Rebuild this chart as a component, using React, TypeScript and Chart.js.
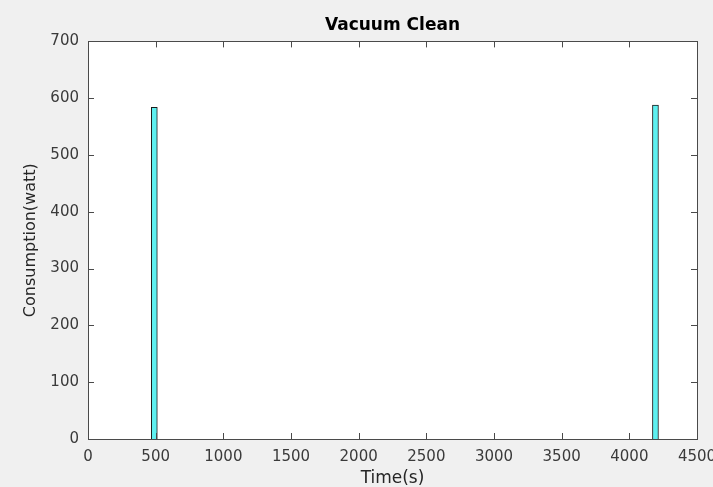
import React, { useEffect, useRef } from "react";
import { Chart, registerables } from "chart.js";

Chart.register(...registerables);

const chartTitle = "Vacuum Clean";
const xAxisTitle = "Time(s)";
const yAxisTitle = "Consumption(watt)";
const times = [490, 4193];
const consumption = [584, 588];
const xMin = 0;
const xMax = 4500;
const xStep = 500;
const yMin = 0;
const yMax = 700;
const yStep = 100;

const FONT = "'DejaVu Sans', 'Liberation Sans', Arial, sans-serif";

const boxPlugin = {
  id: "matlabBox",
  beforeDraw(chart: any) {
    const { ctx, chartArea, width, height } = chart;
    ctx.save();
    ctx.fillStyle = "#f0f0f0";
    ctx.fillRect(0, 0, width, height);
    ctx.fillStyle = "#ffffff";
    ctx.fillRect(chartArea.left, chartArea.top, chartArea.right - chartArea.left, chartArea.bottom - chartArea.top);
    ctx.restore();
  },
  afterDraw(chart: any) {
    const { ctx, chartArea } = chart;
    const { left, right, top, bottom } = chartArea;
    const xs = chart.scales.x;
    const ys = chart.scales.y;
    const tl = 6;
    ctx.save();
    ctx.strokeStyle = "#4a4a4a";
    ctx.lineWidth = 1;
    ctx.beginPath();
    xs.ticks.forEach((t: any) => {
      const px = Math.round(xs.getPixelForValue(t.value)) + 0.5;
      ctx.moveTo(px, bottom);
      ctx.lineTo(px, bottom - tl);
      ctx.moveTo(px, top);
      ctx.lineTo(px, top + tl);
    });
    ys.ticks.forEach((t: any) => {
      const py = Math.round(ys.getPixelForValue(t.value)) + 0.5;
      ctx.moveTo(left, py);
      ctx.lineTo(left + tl, py);
      ctx.moveTo(right, py);
      ctx.lineTo(right - tl, py);
    });
    ctx.stroke();
    ctx.strokeRect(Math.round(left) + 0.5, Math.round(top) + 0.5, Math.round(right - left), Math.round(bottom - top));
    ctx.restore();
  },
};

export default function App() {
  const ref = useRef<HTMLCanvasElement>(null);
  useEffect(() => {
    document.body.style.margin = "0";
    const canvas = ref.current!;
    const chart = new Chart(canvas, {
      type: "bar",
      data: {
        datasets: [
          {
            data: times.map((t, i) => ({ x: t, y: consumption[i] })),
            backgroundColor: "#5ef0f0",
            borderColor: "#1a1a1a",
            borderWidth: 1,
            barThickness: 6,
          },
        ],
      },
      options: {
        animation: false,
        responsive: false,
        devicePixelRatio: 1,
        layout: { padding: { top: 0, right: 16, left: 0, bottom: 0 } },
        plugins: {
          legend: { display: false },
          tooltip: { enabled: false },
          title: {
            display: true,
            fullSize: false,
            text: chartTitle,
            color: "#000000",
            font: { family: FONT, size: 17, weight: "bold", lineHeight: 1.2 },
            padding: { top: 15, bottom: 6 },
          },
        },
        scales: {
          x: {
            type: "linear",
            min: xMin,
            max: xMax,
            offset: false,
            grid: { display: false, drawTicks: false },
            border: { display: false },
            ticks: {
              stepSize: xStep,
              autoSkip: false,
              maxRotation: 0,
              padding: 9,
              color: "#3a3a3a",
              font: { family: FONT, size: 15 },
              callback: (v: any) => String(v),
            },
            title: {
              display: true,
              text: xAxisTitle,
              color: "#262626",
              font: { family: FONT, size: 17, lineHeight: 1.0 },
              padding: { top: 0, bottom: 0 },
            },
            afterFit(scale: any) {
              scale.height = 48;
              scale.paddingLeft = 0;
              scale.paddingRight = 0;
            },
          },
          y: {
            type: "linear",
            min: yMin,
            max: yMax,
            grid: { display: false, drawTicks: false },
            border: { display: false },
            ticks: {
              stepSize: yStep,
              padding: 9,
              color: "#3a3a3a",
              font: { family: FONT, size: 15 },
              callback: (v: any) => String(v),
            },
            title: {
              display: true,
              text: yAxisTitle,
              color: "#262626",
              font: { family: FONT, size: 16, lineHeight: 1.2 },
              padding: { top: 21, bottom: 0 },
            },
            afterFit(scale: any) {
              scale.width = 88;
              scale.paddingTop = 0;
              scale.paddingBottom = 0;
            },
          },
        },
      } as any,
      plugins: [boxPlugin],
    });
    return () => chart.destroy();
  }, []);
  return (
    <div style={{ width: 713, height: 487 }}>
      <canvas ref={ref} width={713} height={487} style={{ display: "block", width: 713, height: 487 }} />
    </div>
  );
}
